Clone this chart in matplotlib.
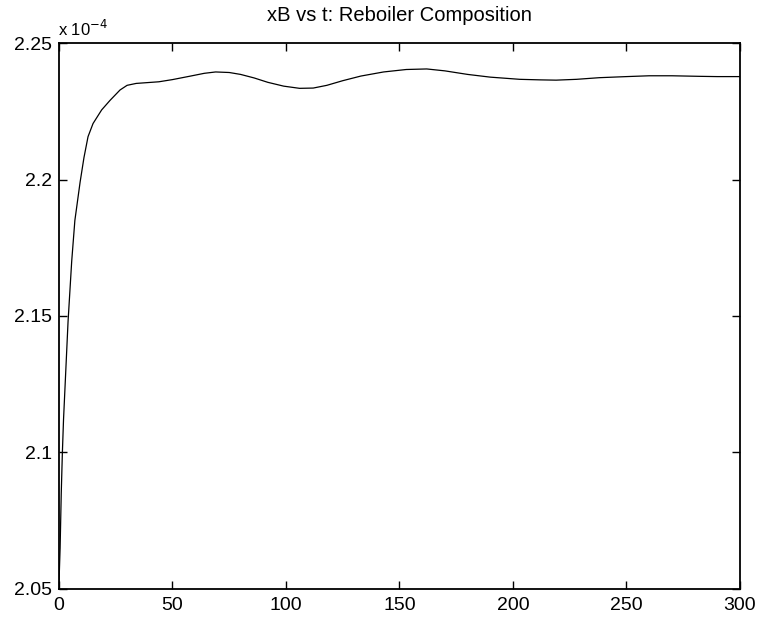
import matplotlib
matplotlib.use("Agg")
import matplotlib.pyplot as plt

# reboiler composition xB (units of 1e-4)
t = [0, 0.5, 1, 1.5, 2, 3, 4, 5.6, 7, 9.3, 11, 12.8, 15, 18.8, 22.5, 26.9,
     30, 34, 44, 50, 58, 64, 69, 75, 80, 86, 92, 99, 106, 112, 118, 125,
     133, 143, 153, 162, 170, 180, 190, 203, 212, 219, 228, 238, 250, 260,
     270, 282, 290, 300]
xB = [2.052, 2.065, 2.085, 2.100, 2.112, 2.130, 2.148, 2.170, 2.185, 2.199,
      2.208, 2.2157, 2.2205, 2.2255, 2.2290, 2.2328, 2.2345, 2.2352, 2.2358,
      2.2366, 2.2379, 2.2389, 2.2394, 2.2392, 2.2385, 2.2372, 2.2356,
      2.2342, 2.2334, 2.2335, 2.2345, 2.2362, 2.2379, 2.2394, 2.2403,
      2.2405, 2.2398, 2.2385, 2.2375, 2.2367, 2.2365, 2.2364, 2.2367,
      2.2373, 2.2377, 2.2380, 2.2380, 2.2378, 2.2377, 2.2377]

x_ticks = [0, 50, 100, 150, 200, 250, 300]
y_ticks = [2.05, 2.1, 2.15, 2.2, 2.25]
y_labels = ["2.05", "2.1", "2.15", "2.2", "2.25"]

plt.rcParams['font.family'] = ['Liberation Sans', 'DejaVu Sans']

fig = plt.figure(figsize=(7.61, 6.19), dpi=100)
ax = fig.add_axes([0.0775, 0.0485, 0.8949, 0.882])

ax.plot(t, xB, color="black", linewidth=0.9)
ax.set_xlim(0, 300)
ax.set_ylim(2.05, 2.25)
ax.set_xticks(x_ticks)
ax.set_yticks(y_ticks)
ax.set_yticklabels(y_labels)
ax.tick_params(direction="in", top=True, right=True, length=6, width=1,
               labelsize=14)
ax.tick_params(axis="y", pad=5)
ax.tick_params(axis="x", pad=6)
for s in ax.spines.values():
    s.set_linewidth(1.3)

ax.set_title("xB vs t: Reboiler Composition", fontsize=14.5, pad=16)
ax.text(-0.001, 1.008, r"x 10$^{-4}$", transform=ax.transAxes, fontsize=12,
        ha="left", va="bottom")

fig.savefig("out.png", dpi=100)
